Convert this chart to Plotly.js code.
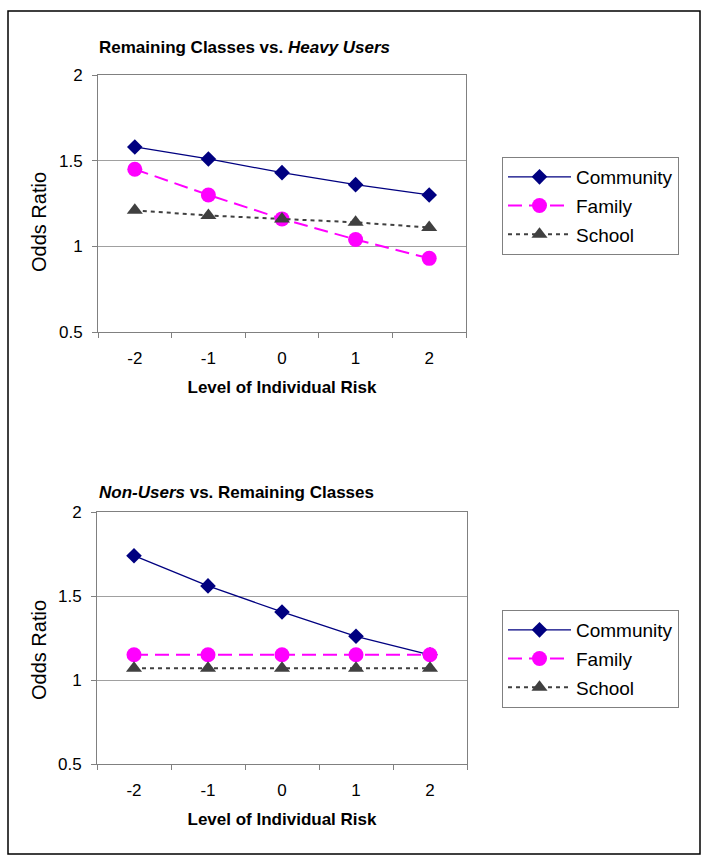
<!DOCTYPE html>
<html>
<head>
<meta charset="utf-8">
<script src="https://cdn.plot.ly/plotly-3.0.1.min.js"></script>
<style>html,body{margin:0;padding:0;background:#fff;}#chart{width:708px;height:868px;}</style>
</head>
<body>
<div id="chart"></div>
<script>
// Data
const riskLevels = ["-2", "-1", "0", "1", "2"];
const seriesNames = ["Community", "Family", "School"];

// Panel 1: Remaining Classes vs. Heavy Users
const topCommunity = [1.58, 1.51, 1.43, 1.36, 1.30];
const topFamily    = [1.45, 1.30, 1.16, 1.04, 0.93];
const topSchool    = [1.21, 1.18, 1.16, 1.14, 1.11];

// Panel 2: Non-Users vs. Remaining Classes
const botCommunity = [1.74, 1.56, 1.405, 1.26, 1.15];
const botFamily    = [1.15, 1.15, 1.15, 1.15, 1.15];
const botSchool    = [1.07, 1.07, 1.07, 1.07, 1.07];

const yTickVals = [0.5, 1, 1.5, 2];
const yTickText = ["0.5", "1", "1.5", "2"];

const FONT = "Arial, 'Liberation Sans', sans-serif";

const styles = [
  {line: {color: "#000080", width: 1.3, dash: "solid"}, marker: {symbol: "diamond", size: 12, color: "#000080"}},
  {line: {color: "#FF00FF", width: 2, dash: "14px,7px"}, marker: {symbol: "circle", size: 15, color: "#FF00FF"}},
  {line: {color: "#404040", width: 2, dash: "4px,4px"}, marker: {symbol: "triangle-up", size: 14, color: "#404040"}}
];

function mk(name, y, idx, xa, ya, leg) {
  return {
    type: "scatter", mode: "lines+markers", name: name,
    x: riskLevels, y: y, xaxis: xa, yaxis: ya, legend: leg,
    legendgroup: leg + name,
    line: styles[idx].line, marker: styles[idx].marker
  };
}

const data = [
  mk(seriesNames[0], topCommunity, 0, "x", "y", "legend"),
  mk(seriesNames[1], topFamily, 1, "x", "y", "legend"),
  mk(seriesNames[2], topSchool, 2, "x", "y", "legend"),
  mk(seriesNames[0], botCommunity, 0, "x2", "y2", "legend2"),
  mk(seriesNames[1], botFamily, 1, "x2", "y2", "legend2"),
  mk(seriesNames[2], botSchool, 2, "x2", "y2", "legend2")
];

const W = 708, H = 868;
const px = v => v / W;
const py = v => 1 - v / H;

function xAxis(domain, anchor) {
  return {
    domain: domain, anchor: anchor, type: "category", range: [-0.5, 4.5],
    tickson: "boundaries", ticks: "outside", ticklen: 5, tickcolor: "#808080",
    ticklabelstandoff: 11,
    showline: true, mirror: true, linecolor: "#808080", linewidth: 1,
    showgrid: false, zeroline: false,
    tickfont: {family: FONT, size: 17, color: "#000"},
    title: {text: "<b>Level of Individual Risk</b>", font: {family: FONT, size: 17, color: "#000"}, standoff: 13}
  };
}
function yAxis(domain, anchor) {
  return {
    domain: domain, anchor: anchor, range: [0.5, 2],
    tickvals: yTickVals, ticktext: yTickText,
    ticks: "outside", ticklen: 5, tickcolor: "#808080",
    ticklabelstandoff: 6,
    showline: true, mirror: true, linecolor: "#808080", linewidth: 1,
    showgrid: true, gridcolor: "#a0a0a0", gridwidth: 1, zeroline: false,
    tickfont: {family: FONT, size: 17, color: "#000"}
  };
}

const legendBase = {
  bgcolor: "#fff", bordercolor: "#808080", borderwidth: 1,
  font: {family: FONT, size: 19, color: "#000"},
  xanchor: "left", yanchor: "top", traceorder: "grouped", tracegroupgap: 1,
  itemwidth: 63
};

function yTitle(yc) {
  return {text: "Odds Ratio", xref: "paper", yref: "paper", x: px(39), y: py(yc),
    xanchor: "center", yanchor: "middle", textangle: -90, showarrow: false,
    font: {family: FONT, size: 20, color: "#000"}};
}

const layout = {
  width: W, height: H,
  margin: {l: 0, r: 0, t: 0, b: 0},
  paper_bgcolor: "#fff", plot_bgcolor: "#fff",
  font: {family: FONT, color: "#000"},
  showlegend: true,
  xaxis: xAxis([px(98), px(466)], "y"),
  yaxis: yAxis([py(332), py(75)], "x"),
  xaxis2: xAxis([px(97), px(467)], "y2"),
  yaxis2: yAxis([py(764), py(512)], "x2"),
  legend: Object.assign({}, legendBase, {x: px(502), y: py(157)}),
  legend2: Object.assign({}, legendBase, {x: px(502), y: py(610)}),
  annotations: [
    {text: "<b>Remaining Classes vs. <i>Heavy Users</i></b>", xref: "paper", yref: "paper",
     x: px(97), y: py(47), xanchor: "left", yanchor: "middle", showarrow: false,
     font: {family: FONT, size: 17, color: "#000"}},
    {text: "<b><i>Non-Users</i> vs. Remaining Classes</b>", xref: "paper", yref: "paper",
     x: px(97), y: py(492), xanchor: "left", yanchor: "middle", showarrow: false,
     font: {family: FONT, size: 17, color: "#000"}},
    yTitle(222),
    yTitle(650)
  ],
  shapes: [
    {type: "rect", xref: "paper", yref: "paper", x0: px(8), x1: px(700), y0: py(854), y1: py(11),
     line: {color: "#000", width: 1.5}, fillcolor: "rgba(0,0,0,0)", layer: "below"}
  ]
};

Plotly.newPlot("chart", data, layout, {displayModeBar: false, staticPlot: true});
</script>
</body>
</html>
